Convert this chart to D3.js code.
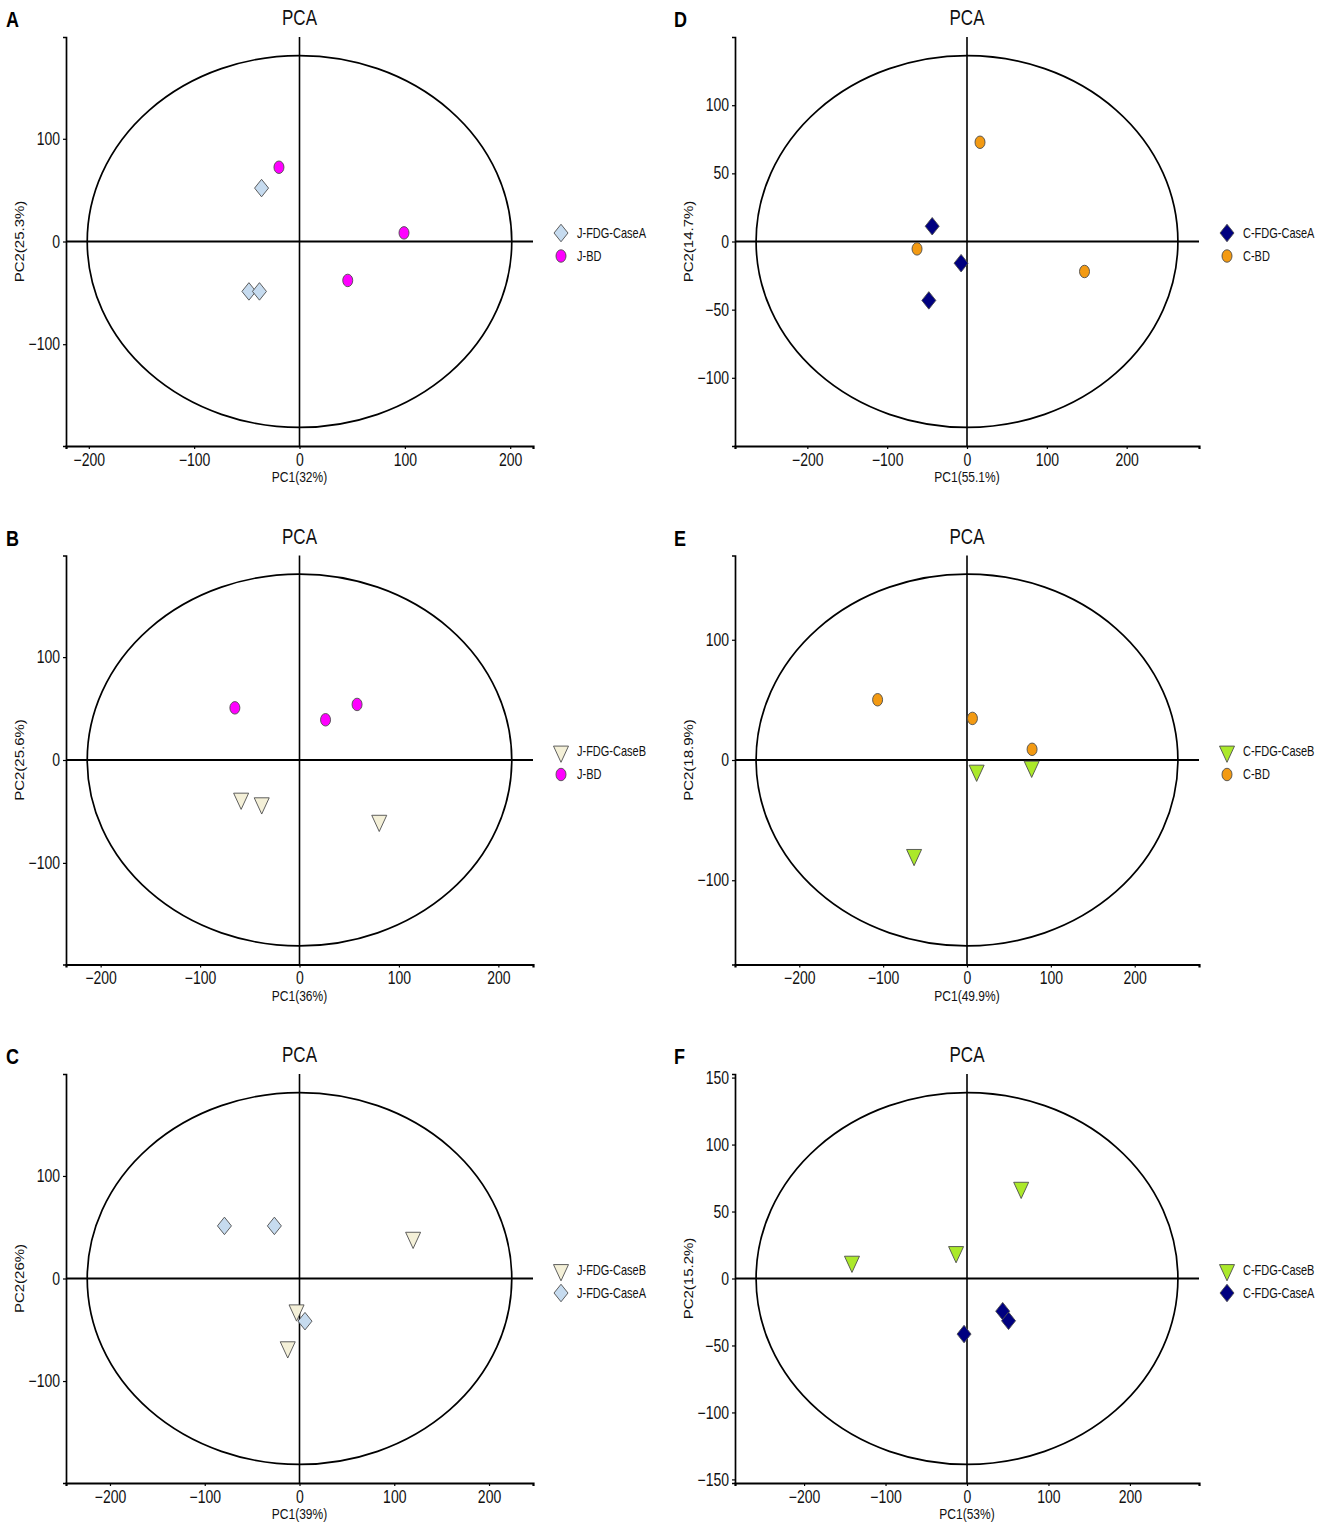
<!DOCTYPE html>
<html>
<head>
<meta charset="utf-8">
<script src="https://cdn.jsdelivr.net/npm/d3@7"></script>
<style>
body { margin: 0; background: #fff; }
svg { display: block; font-family: "Liberation Sans", Arial, sans-serif; }
</style>
</head>
<body>
<div id="chart"></div>
<script>
// ---- data ----
const panelLetters = ["A", "B", "C", "D", "E", "F"];
const pc1Titles = ["PC1(32%)", "PC1(36%)", "PC1(39%)", "PC1(55.1%)", "PC1(49.9%)", "PC1(53%)"];
const pc2Titles = ["PC2(25.3%)", "PC2(25.6%)", "PC2(26%)", "PC2(14.7%)", "PC2(18.9%)", "PC2(15.2%)"];
const ellipseRx = [201.5, 213.5, 224, 264.2, 251.5, 258.9];
const ellipseRy = [181, 180.7, 181.3, 136.4, 154.6, 138.8];
const xTickValues = [-200, -100, 0, 100, 200];
const yTickValues = [
    [-100, 0, 100],
    [-100, 0, 100],
    [-100, 0, 100],
    [-100, -50, 0, 50, 100],
    [-100, 0, 100],
    [-150, -100, -50, 0, 50, 100, 150]
];
const legendGroups = [
    ["J-FDG-CaseA", "J-BD"],
    ["J-FDG-CaseB", "J-BD"],
    ["J-FDG-CaseB", "J-FDG-CaseA"],
    ["C-FDG-CaseA", "C-BD"],
    ["C-FDG-CaseB", "C-BD"],
    ["C-FDG-CaseB", "C-FDG-CaseA"]
];

// [PC1, PC2] scores, one array per group and panel
const scoresA_caseA = [[-36, 52], [-48, -48.6], [-38, -48.6]];
const scoresA_bd = [[-19.5, 72.3], [99.2, 8.4], [45.8, -37.9]];
const scoresB_caseB = [[-58.7, -37.5], [-38, -42], [80.2, -59]];
const scoresB_bd = [[-65, 50.7], [26.2, 39.1], [57.9, 54]];
const scoresC_caseB = [[119.9, 39.8], [-3.1, -31], [-12.4, -67]];
const scoresC_caseA = [[-79.2, 51.3], [-26.5, 51.3], [5.8, -41.6]];
const scoresD_caseA = [[-43.6, 11.2], [-7.4, -15.9], [-47.8, -43.2]];
const scoresD_bd = [[16.3, 72.8], [-62.6, -5.4], [147.2, -22]];
const scoresE_caseB = [[11.5, -8.8], [77.1, -5.5], [-63.1, -78.9]];
const scoresE_bd = [[-106.6, 50.1], [6.5, 34.6], [77.6, 8.9]];
const scoresF_caseB = [[-141.2, 12.6], [-13.4, 19.8], [66.5, 67.8]];
const scoresF_caseA = [[43.8, -24.4], [51, -31.6], [-3.6, -41.5]];

const panelScores = [
    [scoresA_caseA, scoresA_bd],
    [scoresB_caseB, scoresB_bd],
    [scoresC_caseB, scoresC_caseA],
    [scoresD_caseA, scoresD_bd],
    [scoresE_caseB, scoresE_bd],
    [scoresF_caseB, scoresF_caseA]
];

// ---- styles ----
const groupStyle = {
    "J-FDG-CaseA": { shape: "diamond", fill: "#c6dbef" },
    "J-BD": { shape: "circle", fill: "#ff00ff" },
    "J-FDG-CaseB": { shape: "triangle", fill: "#f4f0d8" },
    "C-FDG-CaseA": { shape: "diamond", fill: "#000080" },
    "C-BD": { shape: "circle", fill: "#f39a12" },
    "C-FDG-CaseB": { shape: "triangle", fill: "#abe92a" }
};

const width = 1325;
const height = 1535;
const stretch = 1.25;   // the figure is squashed taller than wide
const columnX = [0, 668];
const plotLeft = [66, 735];
const plotRight = [533, 1199];
const rowTop = [37, 555.5, 1074];
const plotHeight = 409;

const shapePaths = {
    circle: d3.symbol(d3.symbolCircle, Math.PI * 25)(),
    diamond: "M0,-7L7,0L0,7L-7,0Z",
    triangle: "M-7.5,-4.33L7.5,-4.33L0,8.66Z"
};

let svg = d3.select("#chart")
    .append("svg")
        .attr("width", width)
        .attr("height", height);

function addText(parent, x, y, str, size, anchor, rotate) {
    let rot = rotate ? ` rotate(${ rotate })` : "";
    return parent.append("text")
        .attr("transform", `translate(${ x },${ y }) scale(1,${ stretch })${ rot }`)
        .attr("font-size", size)
        .attr("text-anchor", anchor)
        .attr("fill", "#111")
        .text(str);
}

function drawMarker(parent, x, y, group) {
    let style = groupStyle[group];
    parent.append("path")
        .attr("d", shapePaths[style.shape])
        .attr("transform", `translate(${ x },${ y }) scale(1,${ stretch })`)
        .attr("fill", style.fill)
        .attr("stroke", "#4d4d4d")
        .attr("stroke-width", 0.8);
}

function styleTicks(axisGroup) {
    axisGroup.selectAll(".tick line").attr("stroke-width", 1.2);
    axisGroup.selectAll(".tick text")
        .attr("font-size", 14)
        .attr("font-family", "\"Liberation Sans\", Arial, sans-serif")
        .attr("fill", "#111")
        .attr("transform", `scale(1,${ stretch })`);
}

function drawPanel(index) {
    let col = index < 3 ? 0 : 1;
    let row = index % 3;
    let x0 = plotLeft[col];
    let x1 = plotRight[col];
    let y0 = rowTop[row];
    let y1 = y0 + plotHeight;
    let cx = (x0 + x1) / 2;
    let cy = (y0 + y1) / 2;

    let xMax = ellipseRx[index] * 1.1;
    let yMax = ellipseRy[index] * 1.1;

    let x = d3.scaleLinear().domain([-xMax, xMax]).range([x0, x1]);
    let y = d3.scaleLinear().domain([-yMax, yMax]).range([y1, y0]);

    let g = svg.append("g").attr("id", `panel-${ panelLetters[index] }`);

    // letter and title
    addText(g, columnX[col] + 6, y0 - 10, panelLetters[index], 18, "start")
        .attr("font-weight", "bold")
        .attr("fill", "#000");
    addText(g, cx, y0 - 12, "PCA", 17, "middle");

    // ellipse
    g.append("ellipse")
        .attr("cx", x(0))
        .attr("cy", y(0))
        .attr("rx", x(ellipseRx[index]) - x(0))
        .attr("ry", y(0) - y(ellipseRy[index]))
        .attr("fill", "none")
        .attr("stroke", "#000")
        .attr("stroke-width", 1.7);

    // zero lines
    g.append("line")
        .attr("x1", x0).attr("x2", x1)
        .attr("y1", y(0)).attr("y2", y(0))
        .attr("stroke", "#000")
        .attr("stroke-width", 2);
    g.append("line")
        .attr("x1", x(0)).attr("x2", x(0))
        .attr("y1", y0).attr("y2", y1)
        .attr("stroke", "#000")
        .attr("stroke-width", 1.6);

    // axes
    let xAxis = d3.axisBottom(x)
        .tickValues(xTickValues)
        .tickSizeOuter(0)
        .tickSize(3)
        .tickPadding(3)
        .tickFormat(d => d < 0 ? `\u2212${ -d }` : `${ d }`);
    let gx = g.append("g")
        .attr("transform", `translate(0,${ y1 })`)
        .call(xAxis);
    gx.select(".domain").attr("stroke-width", 2.2);
    styleTicks(gx);

    let yAxis = d3.axisLeft(y)
        .tickValues(yTickValues[index])
        .tickSizeOuter(0)
        .tickSize(3)
        .tickPadding(3)
        .tickFormat(d => d < 0 ? `\u2212${ -d }` : `${ d }`);
    let gy = g.append("g")
        .attr("transform", `translate(${ x0 },0)`)
        .call(yAxis);
    gy.select(".domain").attr("stroke-width", 1.7);
    styleTicks(gy);

    // axis titles
    addText(g, cx, y1 + 36, pc1Titles[index], 12, "middle");
    addText(g, x0 - 42, cy, pc2Titles[index], 12, "middle", -90);

    // points
    legendGroups[index].forEach((group, gi) => {
        panelScores[index][gi].forEach(p => drawMarker(g, x(p[0]), y(p[1]), group));
    });

    // legend
    legendGroups[index].forEach((group, gi) => {
        let ly = cy - 8.5 + gi * 23;
        drawMarker(g, x1 + 28, ly, group);
        addText(g, x1 + 44, ly, group, 11, "start").attr("dy", "0.35em");
    });
}

panelLetters.forEach((d, i) => drawPanel(i));
</script>
</body>
</html>
